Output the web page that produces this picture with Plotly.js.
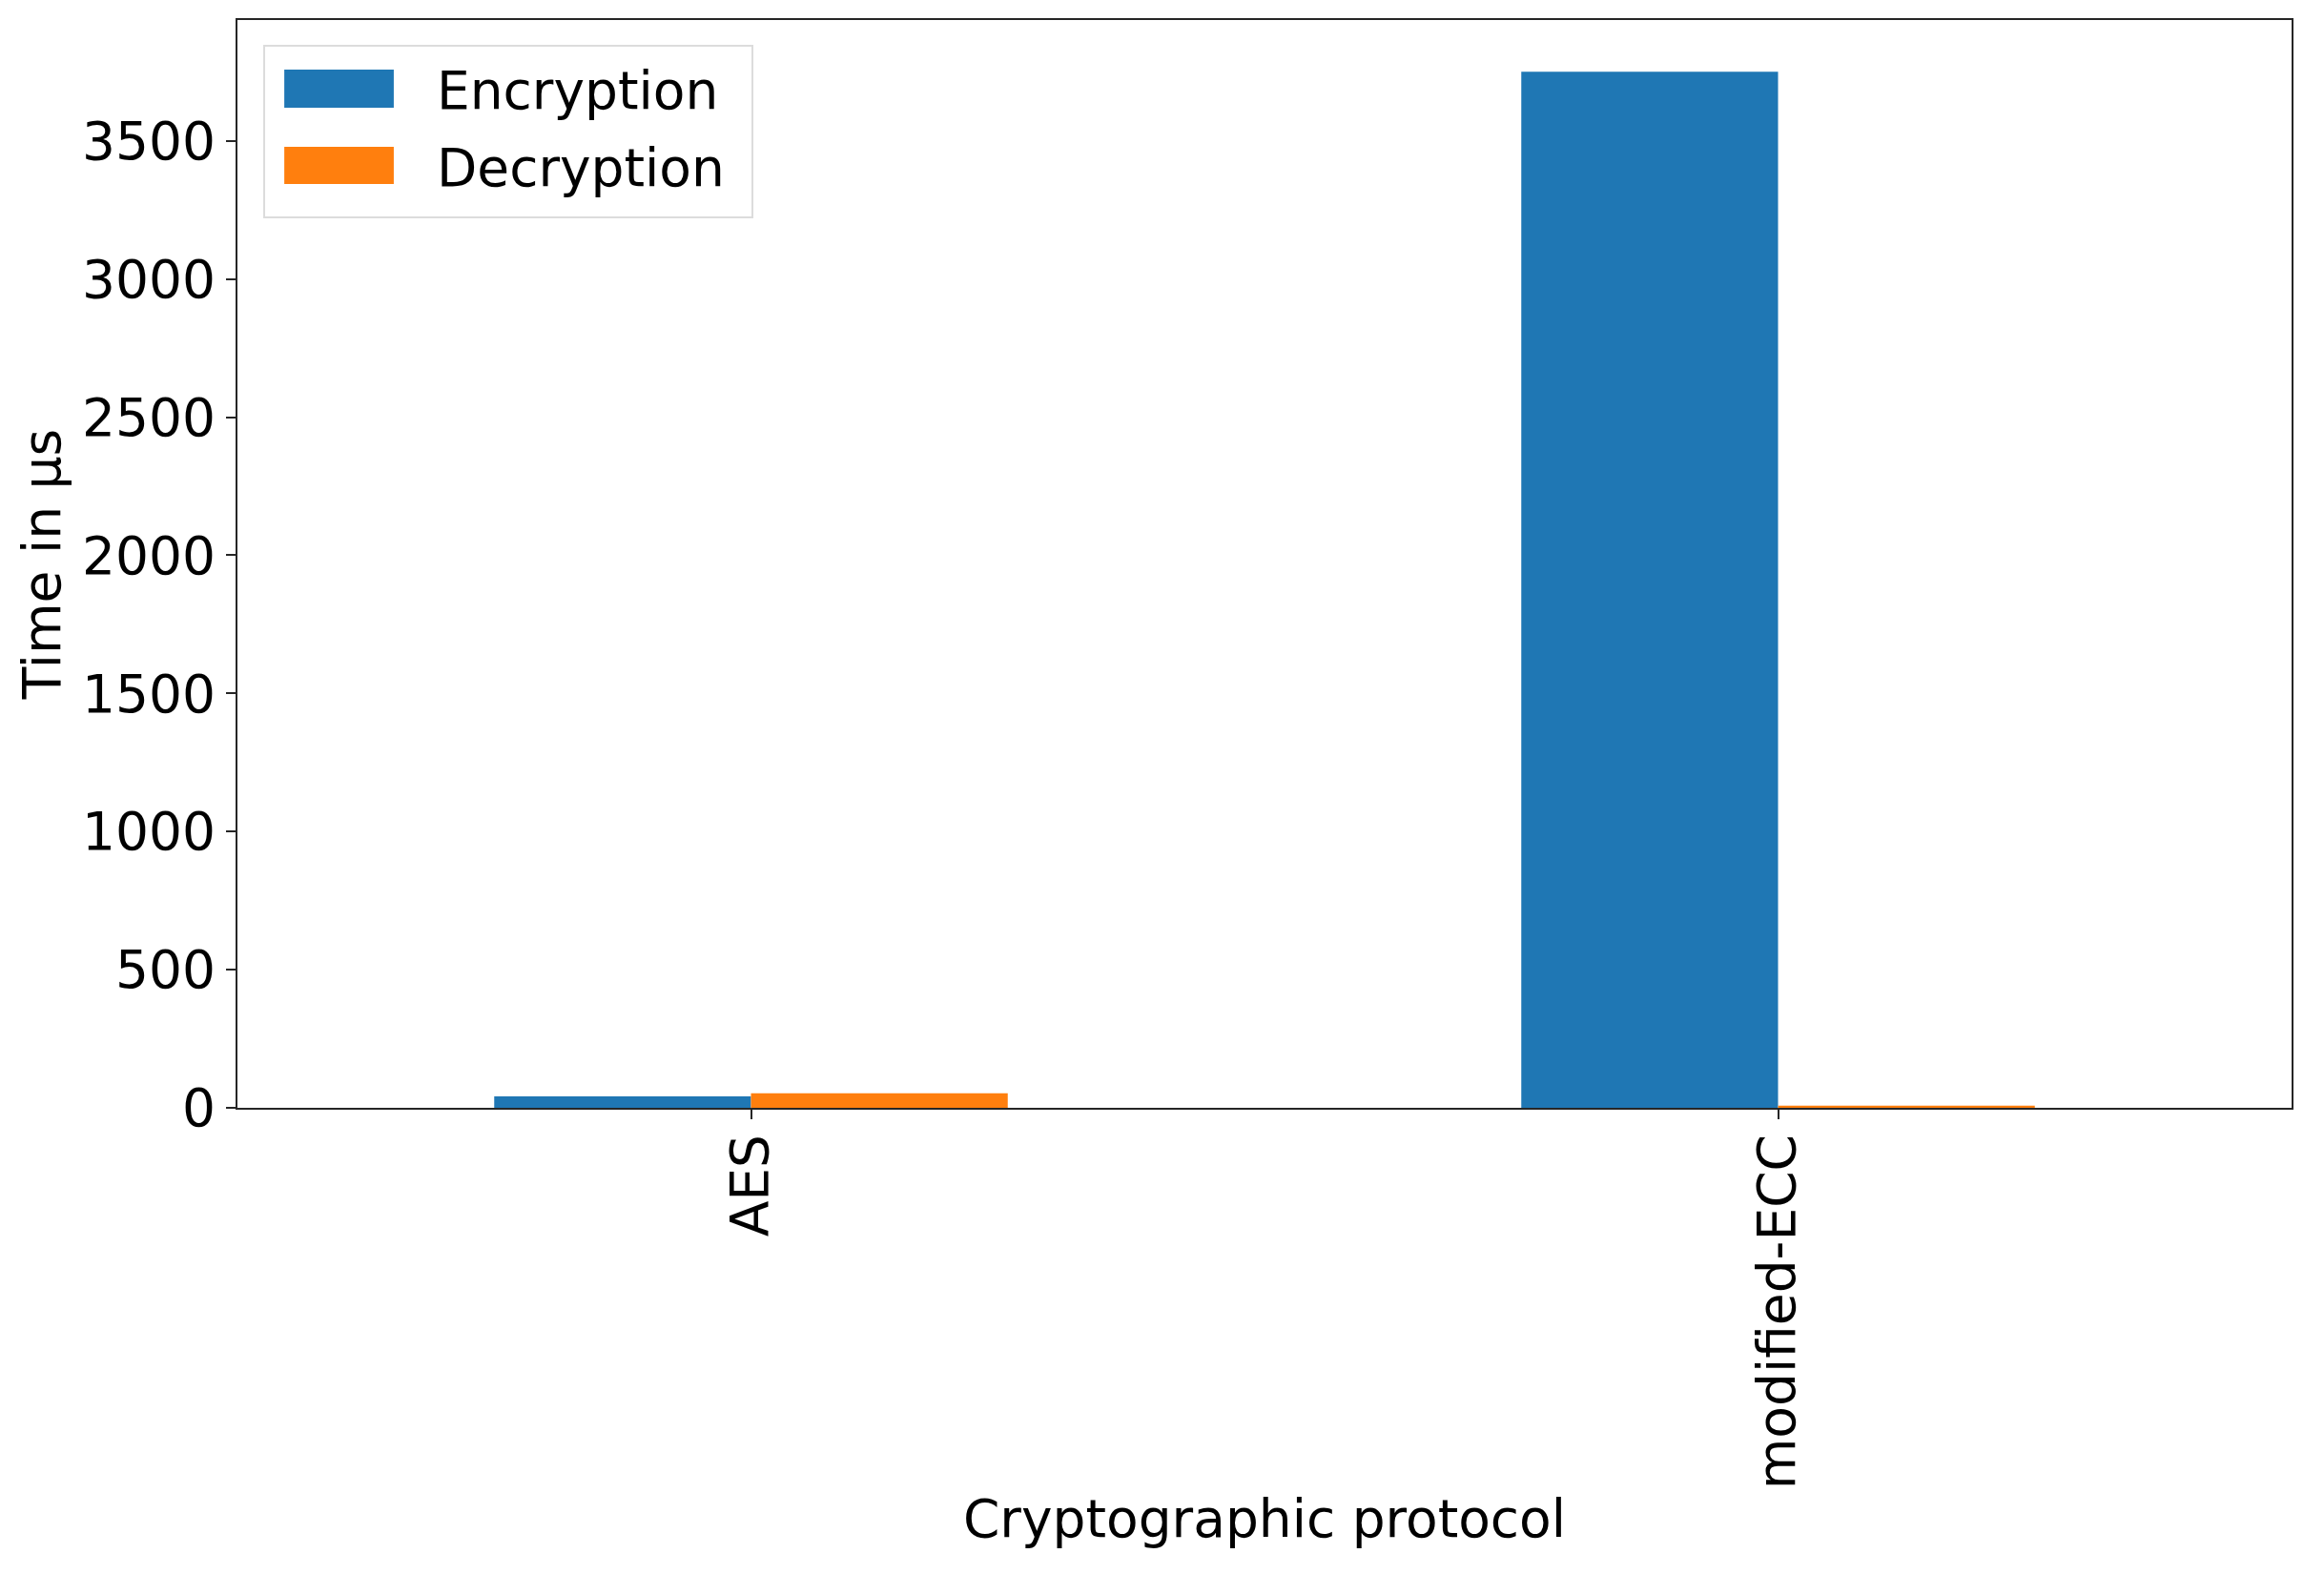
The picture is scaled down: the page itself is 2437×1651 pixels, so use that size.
<!DOCTYPE html>
<html>
<head>
<meta charset="utf-8">
<script src="https://cdn.plot.ly/plotly-3.0.1.min.js"></script>
<style>
  html, body { margin: 0; padding: 0; background: #fff; }
  #chart { width: 2437px; height: 1651px; }
</style>
</head>
<body>
<div id="chart"></div>
<script>
// chart values
const protocols = ['AES', 'modified-ECC'];
const encryptionTimes = [41, 3750];
const decryptionTimes = [53, 8];
const seriesNames = ['Encryption', 'Decryption'];
const seriesColors = ['#1f77b4', '#ff7f0e'];

const FONT = 'DejaVu Sans, sans-serif';
const AXIS_COLOR = '#262626';

const traces = [encryptionTimes, decryptionTimes].map((values, i) => ({
  x: protocols,
  y: values,
  name: seriesNames[i],
  type: 'bar',
  marker: { color: seriesColors[i], line: { width: 0 } },
  showlegend: false
}));

const yMax = Math.max(...encryptionTimes, ...decryptionTimes) * 1.05;

// matplotlib-like legend: big patches inside a light grey box (paper coords)
const legendRows = [
  { patch: [0.9194, 0.9544], text: 0.9351 },
  { patch: [0.8493, 0.8834], text: 0.8642 }
];

const shapes = [{
  type: 'rect', xref: 'paper', yref: 'paper',
  x0: 0.0130, x1: 0.2507, y0: 0.8186, y1: 0.9763,
  line: { color: '#dcdcdc', width: 2 },
  fillcolor: 'rgba(255,255,255,0.8)'
}];
const annotations = [];

legendRows.forEach((row, i) => {
  shapes.push({
    type: 'rect', xref: 'paper', yref: 'paper',
    x0: 0.0228, x1: 0.0761, y0: row.patch[0], y1: row.patch[1],
    line: { width: 0 },
    fillcolor: seriesColors[i]
  });
  annotations.push({
    xref: 'paper', yref: 'paper',
    x: 0.0960, y: row.text,
    xanchor: 'left', yanchor: 'middle',
    text: seriesNames[i],
    showarrow: false,
    font: { family: FONT, size: 55, color: '#000' }
  });
});

const layout = {
  width: 2437,
  height: 1651,
  margin: { l: 249, r: 34, t: 21, b: 489, pad: 0 },
  paper_bgcolor: '#fff',
  plot_bgcolor: '#fff',
  font: { family: FONT, size: 55, color: '#000' },
  barmode: 'group',
  bargap: 0.5,
  bargroupgap: 0,
  showlegend: false,
  xaxis: {
    type: 'category',
    range: [-0.5, 1.5],
    title: { text: 'Cryptographic protocol', font: { family: FONT, size: 55 }, standoff: 12 },
    tickangle: -90,
    ticks: 'outside',
    ticklen: 10,
    tickwidth: 2,
    tickcolor: AXIS_COLOR,
    tickfont: { family: FONT, size: 55 },
    ticklabelstandoff: -6,
    showline: true,
    linecolor: AXIS_COLOR,
    linewidth: 2,
    mirror: true,
    showgrid: false,
    zeroline: false
  },
  yaxis: {
    range: [0, yMax],
    dtick: 500,
    tick0: 0,
    title: { text: 'Time in µs', font: { family: FONT, size: 55 }, standoff: 5 },
    ticks: 'outside',
    ticklen: 10,
    tickwidth: 2,
    tickcolor: AXIS_COLOR,
    tickfont: { family: FONT, size: 55 },
    showline: true,
    linecolor: AXIS_COLOR,
    linewidth: 2,
    mirror: true,
    showgrid: false,
    zeroline: false
  },
  shapes: shapes,
  annotations: annotations
};

Plotly.newPlot('chart', traces, layout, { staticPlot: true, displayModeBar: false });
</script>
</body>
</html>
